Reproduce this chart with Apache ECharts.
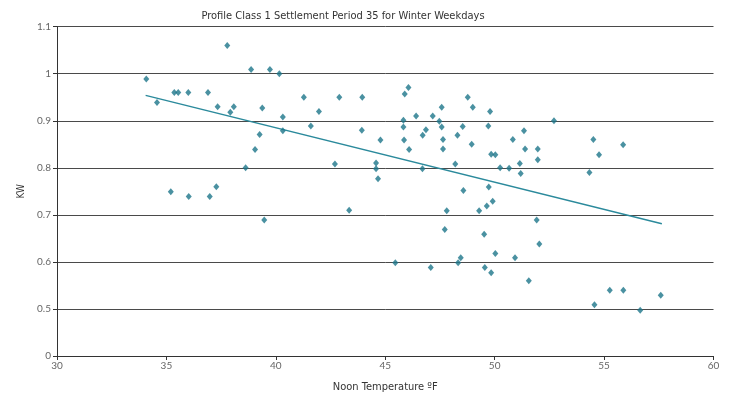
<!DOCTYPE html>
<html>
<head>
<meta charset="utf-8">
<script src="https://cdn.jsdelivr.net/npm/echarts@6/dist/echarts.min.js"></script>
<style>
html,body{margin:0;padding:0;background:#fff;}
#chart{width:745px;height:398px;}
</style>
</head>
<body>
<div id="chart"></div>
<script>
// Noon temperature (°F) of each weekday
const temperatures = [
  34.08, 34.57, 35.36, 35.54, 36.0, 36.9, 37.34, 37.78, 37.92, 38.08,
  38.87, 39.73, 40.16, 39.38, 41.28, 41.97, 40.32, 41.6, 40.32, 39.26,
  39.05, 38.62, 35.2, 36.02, 36.98, 37.28, 39.47, 42.9, 43.95, 43.93,
  44.78, 42.7, 44.58, 44.58, 44.67, 43.35, 45.89, 46.06, 45.83, 45.83,
  45.86, 46.09, 46.41, 46.86, 46.71, 46.7, 47.17, 47.47, 47.58, 47.58,
  47.64, 47.64, 47.81, 48.2, 48.3, 48.54, 48.77, 49.0, 48.95, 48.57,
  49.29, 49.64, 49.91, 49.73, 49.79, 49.71, 49.84, 50.03, 50.25, 50.66,
  51.15, 51.97, 51.19, 51.92, 47.72, 49.52, 52.04, 45.46, 47.08, 48.33,
  48.45, 49.55, 49.84, 50.03, 50.93, 51.56, 50.83, 51.34, 51.39, 51.97,
  52.71, 54.51, 54.77, 54.33, 55.87, 54.56, 55.26, 55.88, 56.65, 57.59
];
// Load (kW) for the same days
const loads = [
  0.989, 0.939, 0.960, 0.960, 0.960, 0.960, 0.930, 1.060, 0.918, 0.930,
  1.009, 1.009, 1.000, 0.927, 0.950, 0.920, 0.908, 0.889, 0.879, 0.871,
  0.839, 0.800, 0.749, 0.739, 0.739, 0.760, 0.689, 0.950, 0.950, 0.880,
  0.859, 0.808, 0.810, 0.798, 0.777, 0.710, 0.957, 0.971, 0.901, 0.887,
  0.859, 0.839, 0.910, 0.881, 0.869, 0.798, 0.910, 0.899, 0.929, 0.887,
  0.860, 0.840, 0.709, 0.808, 0.869, 0.888, 0.950, 0.929, 0.850, 0.752,
  0.709, 0.719, 0.729, 0.759, 0.920, 0.889, 0.829, 0.828, 0.800, 0.799,
  0.809, 0.817, 0.788, 0.689, 0.669, 0.659, 0.638, 0.598, 0.588, 0.598,
  0.609, 0.588, 0.577, 0.618, 0.609, 0.560, 0.860, 0.879, 0.840, 0.840,
  0.900, 0.860, 0.828, 0.790, 0.849, 0.509, 0.540, 0.540, 0.497, 0.529
];
// Trend line end points
const trendX = [34.05, 57.64];
const trendY = [0.954, 0.681];

const titleText = 'Profile Class 1 Settlement Period 35 for Winter Weekdays';
const xName = 'Noon Temperature \u00baF';
const yName = 'KW';

const points = temperatures.map((t, i) => [t, loads[i]]);
const trend = trendX.map((t, i) => [t, trendY[i]]);

const labelFont = 'Lato, "Open Sans", sans-serif';
const narrowFont = '"Liberation Sans Narrow", "DejaVu Sans Condensed", sans-serif';

const chart = echarts.init(document.getElementById('chart'), null, {renderer: 'canvas'});
chart.setOption({
  animation: false,
  backgroundColor: '#ffffff',
  title: {
    text: titleText,
    left: 338,
    top: 6,
    textAlign: 'center',
    textStyle: {fontFamily: narrowFont, fontSize: 11, fontWeight: 'normal', color: '#333'}
  },
  grid: {left: 57, right: 31.5, top: 26.7, bottom: 37.3, containLabel: false},
  xAxis: {
    type: 'value',
    min: 30, max: 60, interval: 5,
    name: xName,
    nameLocation: 'middle',
    nameGap: 26,
    nameTextStyle: {fontFamily: narrowFont, fontSize: 11, color: '#333'},
    axisLine: {show: true, onZero: false, lineStyle: {color: '#333', width: 1}},
    axisTick: {show: true, inside: false, length: 4, lineStyle: {color: '#333'}},
    axisLabel: {fontFamily: labelFont, fontSize: 10, color: '#666', margin: 5},
    splitLine: {show: false}
  },
  yAxis: {
    type: 'value',
    min: 0.4, max: 1.1, interval: 0.1,
    name: yName,
    nameLocation: 'middle',
    nameGap: 30,
    nameRotate: 90,
    nameTextStyle: {fontFamily: narrowFont, fontSize: 10, color: '#333'},
    axisLine: {show: true, lineStyle: {color: '#333', width: 1}},
    axisTick: {show: true, inside: false, length: 4, lineStyle: {color: '#333'}},
    axisLabel: {
      fontFamily: labelFont, fontSize: 10, color: '#666', margin: 6,
      formatter: function (v) { return v < 0.45 ? '0' : String(Math.round(v * 10) / 10); }
    },
    splitLine: {show: true, lineStyle: {color: '#4a4a4a', width: 1}}
  },
  series: [
    {
      type: 'scatter',
      data: points,
      symbol: 'diamond',
      symbolSize: [6, 7],
      itemStyle: {color: '#1d7689'},
      z: 3
    },
    {
      type: 'line',
      data: trend,
      showSymbol: false,
      symbol: 'none',
      lineStyle: {color: '#2b8a9c', width: 1.5},
      z: 2
    }
  ]
});
</script>
</body>
</html>
